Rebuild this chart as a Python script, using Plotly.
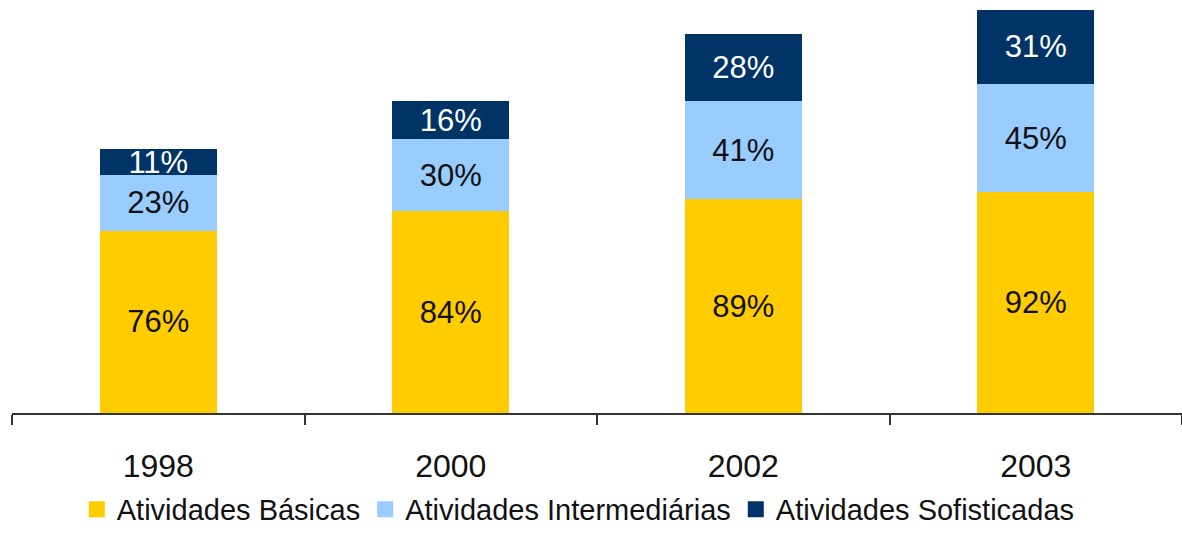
import plotly.graph_objects as go

years = ["1998", "2000", "2002", "2003"]
basicas = [76, 84, 89, 92]
intermediarias = [23, 30, 41, 45]
sofisticadas = [11, 16, 28, 31]

series = [
    ("Atividades Básicas", basicas, "#FFCC00", "#111111"),
    ("Atividades Intermediárias", intermediarias, "#99CCFF", "#111111"),
    ("Atividades Sofisticadas", sofisticadas, "#003366", "#FFFFFF"),
]

FONT = "Liberation Sans, Arial, sans-serif"
fig = go.Figure()
for name, vals, color, tcolor in series:
    fig.add_trace(go.Bar(
        x=years, y=vals, name=name, marker=dict(color=color, line=dict(width=0)),
        text=[f"{v}%" for v in vals], textposition="inside", insidetextanchor="middle",
        constraintext="none", textangle=0,
        textfont=dict(family=FONT, size=31, color=tcolor),
        showlegend=False,
    ))
for name, vals, color, tcolor in series:
    fig.add_trace(go.Scatter(
        x=[None], y=[None], mode="markers", name=name,
        marker=dict(symbol="square", size=16, color=color),
    ))

fig.update_layout(
    barmode="stack", bargap=0.6,
    width=1182, height=536,
    margin=dict(l=12, r=0, t=0, b=123, autoexpand=False),
    plot_bgcolor="white", paper_bgcolor="white",
    uniformtext=dict(minsize=31, mode="show"),
    font=dict(family=FONT, size=31, color="#111111"),
    legend=dict(orientation="h", traceorder="normal",
                x=0.484, xanchor="center", y=-0.295, yanchor="bottom",
                font=dict(family=FONT, size=29, color="#111111"),
                itemsizing="trace", itemwidth=30, tracegroupgap=0),
)
fig.update_xaxes(
    showline=True, linecolor="#333333", linewidth=2,
    ticks="outside", ticklen=10, tickwidth=2, tickcolor="#333333",
    tickson="boundaries", showgrid=False, automargin=False,
    tickfont=dict(family=FONT, size=32, color="#111111"),
    ticklabelstandoff=24,
)
fig.update_yaxes(range=[0, 172], visible=False, showgrid=False, automargin=False)

fig.write_html("out.html", post_script="document.body.style.margin='0';",
               config={"displayModeBar": False})
